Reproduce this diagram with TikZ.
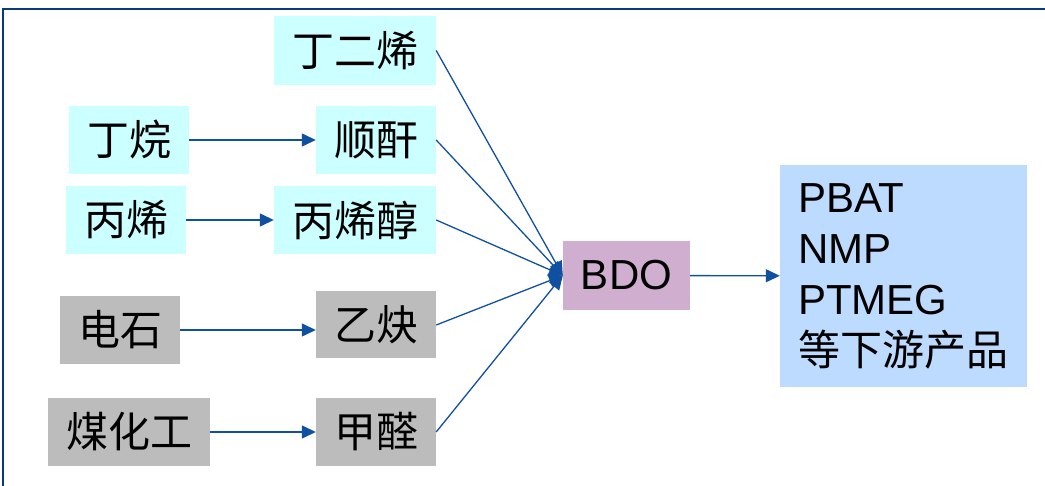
\documentclass[tikz,border=0pt]{standalone}
\usepackage{fontspec}
\setmainfont{Liberation Sans}
\newfontfamily\cjk{Noto Sans CJK SC}
\usetikzlibrary{arrows.meta}
\definecolor{cyanbox}{HTML}{CCFFFF}
\definecolor{graybox}{HTML}{BCBCBC}
\definecolor{bdobox}{HTML}{D0AED0}
\definecolor{outbox}{HTML}{BDDBFF}
\definecolor{linkblue}{HTML}{1050A0}
\definecolor{framenavy}{HTML}{0B3A78}
\tikzset{
  box/.style={inner sep=0pt, font=\fontsize{42}{50}\selectfont\cjk, text=black},
  cyanstep/.style={box, fill=cyanbox},
  graystep/.style={box, fill=graybox},
  link/.style={draw=linkblue, line width=1.3pt, -{Triangle[length=14pt,width=13pt]}, color=linkblue}
}
\begin{document}
\begin{tikzpicture}[x=1pt,y=-1pt]
\useasboundingbox (0,0) rectangle (1045,486);
\draw[framenavy, line width=2pt] (3,486) -- (3,9) -- (1045,9);

\node[cyanstep, minimum width=162pt, minimum height=69pt] (bd) at (355,50.5) {丁二烯};
\node[cyanstep, minimum width=120pt, minimum height=68pt] (dw) at (129,140) {丁烷};
\node[cyanstep, minimum width=120pt, minimum height=68pt] (sg) at (376,140) {顺酐};
\node[cyanstep, minimum width=120pt, minimum height=68pt] (bx) at (126,220) {丙烯};
\node[cyanstep, minimum width=162pt, minimum height=68pt] (bxc) at (355,220) {丙烯醇};
\node[graystep, minimum width=120pt, minimum height=68pt] (ds) at (120,330) {电石};
\node[graystep, minimum width=120pt, minimum height=67pt] (yq) at (376,325) {乙炔};
\node[graystep, minimum width=162pt, minimum height=68pt] (mhg) at (129,432) {煤化工};
\node[graystep, minimum width=120pt, minimum height=68pt] (jq) at (376,432) {甲醛};
\node[box, fill=bdobox, font=\fontsize{42}{50}\selectfont, minimum width=127pt, minimum height=69pt] (bdo) at (626.5,275.5) {BDO};
\node[box, fill=outbox, font=\fontsize{42}{51}\selectfont, minimum width=247pt, minimum height=222pt, text width=211pt, align=left, inner xsep=18pt] (out) at (903.5,276) {PBAT\\NMP\\PTMEG\\{\cjk 等下游产品}};

\draw[link] (dw) -- (sg);
\draw[link] (bx) -- (bxc);
\draw[link] (ds.east) -- (yq.west |- ds.east);
\draw[link] (mhg) -- (jq);
\draw[link] (bd.east) -- (bdo.west);
\draw[link] (sg.east) -- (bdo.west);
\draw[link] (bxc.east) -- (bdo.west);
\draw[link] (yq.east) -- (bdo.west);
\draw[link] (jq.east) -- (bdo.west);
\draw[link] (bdo) -- (out);
\end{tikzpicture}
\end{document}
